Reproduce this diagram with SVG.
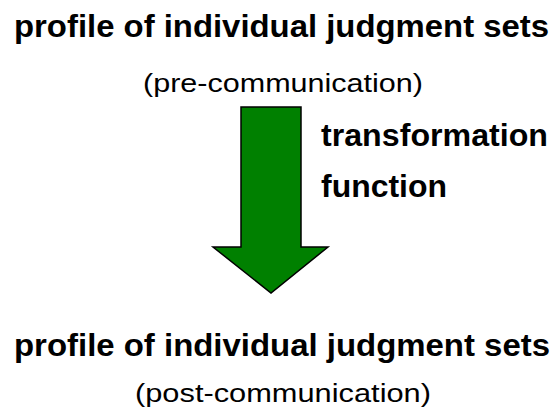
<svg xmlns="http://www.w3.org/2000/svg" width="558" height="409" viewBox="0 0 558 409">
<style>
.title{font-family:"Liberation Sans",Arial,sans-serif;font-weight:bold;font-size:32px;fill:#000}
.sub{font-family:"Liberation Sans",Arial,sans-serif;font-size:26px;fill:#000}
.arrow{fill:#008000;stroke:#000;stroke-width:1.5;stroke-linejoin:miter}
</style>
<rect width="558" height="409" fill="#fff"/>
<g id="pre">
<text class="title" x="14" y="37" textLength="535" lengthAdjust="spacingAndGlyphs">profile of individual judgment sets</text>
<text class="sub" x="143" y="92" textLength="280" lengthAdjust="spacingAndGlyphs">(pre-communication)</text>
</g>
<g id="connectors">
<polygon class="arrow" points="241,107 301,107 301,247 328,247 271,293 213,247 241,247"/>
<text class="title" x="321" y="146" textLength="227" lengthAdjust="spacingAndGlyphs">transformation</text>
<text class="title" x="321" y="197" textLength="126" lengthAdjust="spacingAndGlyphs">function</text>
</g>
<g id="post">
<text class="title" x="14" y="356" textLength="536" lengthAdjust="spacingAndGlyphs">profile of individual judgment sets</text>
<text class="sub" x="135" y="402" textLength="296" lengthAdjust="spacingAndGlyphs">(post-communication)</text>
</g>
</svg>
